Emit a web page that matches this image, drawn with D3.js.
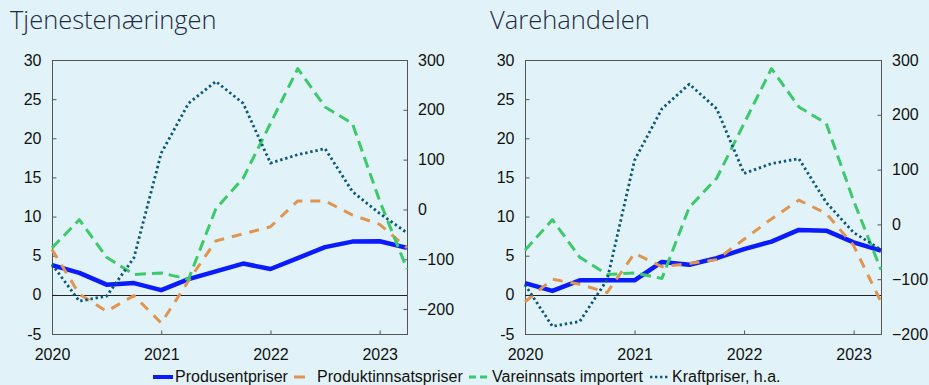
<!DOCTYPE html>
<html>
<head>
<meta charset="utf-8">
<script src="https://cdn.jsdelivr.net/npm/d3@7"></script>
<style>
  html, body { margin: 0; padding: 0; background: #e1f3f8; }
  svg { display: block; }
  .tick text { font-family: "Liberation Sans", Arial, sans-serif; font-size: 16px; fill: #111; }
</style>
</head>
<body>
<svg id="chart" width="929" height="385"></svg>
<script>
// Quarterly observations, 2020 Q1 – 2023 Q2 (decimal years)
const periods = [2020.00, 2020.25, 2020.50, 2020.75, 2021.00, 2021.25, 2021.50, 2021.75,
                 2022.00, 2022.25, 2022.50, 2022.75, 2023.00, 2023.25];

const seriesNames = ["Produsentpriser", "Produktinnsatspriser", "Vareinnsats importert", "Kraftpriser, h.a."];
const panelTitles = ["Tjenestenæringen", "Varehandelen"];

// Tjenestenæringen
const tjenesteProdusent       = [3.8, 2.8, 1.3, 1.5, 0.6, 2.0, 3.0, 4.0, 3.3, 4.7, 6.1, 6.8, 6.85, 6.0];
const tjenesteProduktinnsats  = [5.8, 0.1, -2.1, -0.1, -3.6, 1.8, 6.9, 7.8, 8.7, 12.0, 12.0, 10.2, 9.0, 6.0];
const tjenesteVareinnsats     = [6.0, 9.6, 4.8, 2.6, 2.8, 2.0, 11.0, 14.9, 21.9, 28.9, 24.0, 21.9, 12.0, 3.3];
const tjenesteKraft           = [-110, -184, -174, -97, 113, 213, 257, 213, 93, 110, 122, 36, -8, -47];

// Varehandelen
const vareProdusent           = [1.5, 0.5, 1.85, 1.85, 1.85, 4.2, 3.85, 4.7, 5.85, 6.8, 8.3, 8.2, 6.7, 5.65];
const vareProduktinnsats      = [-0.9, 2.0, 1.35, 0.3, 5.3, 3.6, 4.0, 4.5, 7.1, 9.7, 12.1, 10.4, 6.3, -0.9];
const vareVareinnsats         = [5.7, 9.6, 4.8, 2.6, 2.8, 2.1, 11.2, 14.9, 21.9, 28.9, 24.0, 21.9, 12.0, 3.2];
const vareKraft               = [-110, -186, -177, -101, 117, 211, 256, 211, 93, 111, 120, 40, -15, -46];

// Axis ticks
const yearTicks   = [2020, 2021, 2022, 2023];
const leftTicks   = [-5, 0, 5, 10, 15, 20, 25, 30];
const rightTicksA = [-200, -100, 0, 100, 200, 300];
const rightTicksB = [-200, -100, 0, 100, 200, 300];

const colors = ["#0a1cff", "#df9552", "#3cc96c", "#0d5878"];

const svg = d3.select("#chart");
svg.append("rect").attr("width", 929).attr("height", 385).attr("fill", "#e1f3f8");

const plotTop = 60, plotBottom = 334;

const panels = [
  { title: panelTitles[0], titleX: 10, x0: 52, x1: 407,
    rightDomain: [-250, 300], rightTicks: rightTicksA,
    series: [tjenesteProdusent, tjenesteProduktinnsats, tjenesteVareinnsats, tjenesteKraft] },
  { title: panelTitles[1], titleX: 490, x0: 525, x1: 881,
    rightDomain: [-200, 300], rightTicks: rightTicksB,
    series: [vareProdusent, vareProduktinnsats, vareVareinnsats, vareKraft] }
];

const styles = [
  { width: 4.5, dash: null },
  { width: 3, dash: "10,8" },
  { width: 3, dash: "11,6" },
  { width: 2.8, dash: "2.4,2.8" }
];

const minusHyphen = d => d < 0 ? "-" + Math.abs(d) : String(d);

panels.forEach(p => {
  const g = svg.append("g");
  const x = d3.scaleLinear().domain([2020, 2023.25]).range([p.x0, p.x1]);
  const yL = d3.scaleLinear().domain([-5, 30]).range([plotBottom, plotTop]);
  const yR = d3.scaleLinear().domain(p.rightDomain).range([plotBottom, plotTop]);

  // Title
  g.append("text")
    .attr("x", p.titleX).attr("y", 29)
    .attr("font-family", "'Open Sans', sans-serif")
    .attr("font-weight", 300)
    .attr("font-size", 25.5)
    .attr("fill", "#1e2b45")
    .text(p.title);

  // Left axis
  g.append("g").attr("transform", `translate(${p.x0 + 0.5},0)`)
    .call(d3.axisLeft(yL).tickValues(leftTicks).tickFormat(minusHyphen)
      .tickSizeInner(-4).tickSizeOuter(0).tickPadding(11))
    .call(a => a.select(".domain").remove())
    .call(a => a.selectAll(".tick line").attr("stroke", "#555"));

  // Right axis
  g.append("g").attr("transform", `translate(${p.x1 + 0.5},0)`)
    .call(d3.axisRight(yR).tickValues(p.rightTicks)
      .tickSizeInner(-4).tickSizeOuter(0).tickPadding(10.5))
    .call(a => a.select(".domain").remove())
    .call(a => a.selectAll(".tick line").attr("stroke", "#555"));

  // Bottom axis
  g.append("g").attr("transform", `translate(0,${plotBottom + 0.5})`)
    .call(d3.axisBottom(x).tickValues(yearTicks).tickFormat(d3.format("d"))
      .tickSizeInner(-4).tickSizeOuter(0).tickPadding(14))
    .call(a => a.select(".domain").remove())
    .call(a => a.selectAll(".tick line").attr("stroke", "#555"));

  // Frame
  g.append("rect")
    .attr("x", p.x0 + 0.5).attr("y", plotTop + 0.5)
    .attr("width", p.x1 - p.x0).attr("height", plotBottom - plotTop)
    .attr("fill", "none").attr("stroke", "#555").attr("stroke-width", 1);

  // Zero line
  g.append("line")
    .attr("x1", p.x0).attr("x2", p.x1)
    .attr("y1", Math.round(yL(0)) + 0.5).attr("y2", Math.round(yL(0)) + 0.5)
    .attr("stroke", "#222").attr("stroke-width", 1);

  // Series
  p.series.forEach((vals, i) => {
    const y = i === 3 ? yR : yL;
    const line = d3.line().x((d, j) => x(periods[j])).y(d => y(d));
    g.append("path")
      .datum(vals)
      .attr("d", line)
      .attr("fill", "none")
      .attr("stroke", colors[i])
      .attr("stroke-width", styles[i].width)
      .attr("stroke-dasharray", styles[i].dash)
      .attr("stroke-linejoin", "round");
  });
});

// Legend
const legendLayout = [
  { sx: 153, sw: 20, tx: 175, dash: null, w: 4 },
  { sx: 294, sw: 11, tx: 317, dash: null, w: 3 },
  { sx: 469, sw: 19, tx: 492, dash: "7,4", w: 3 },
  { sx: 650, sw: 18, tx: 672, dash: "2.4,2.6", w: 2.6 }
];
const legend = svg.append("g");
seriesNames.forEach((name, i) => {
  const L = legendLayout[i];
  legend.append("line")
    .attr("x1", L.sx).attr("x2", L.sx + L.sw)
    .attr("y1", 377).attr("y2", 377)
    .attr("stroke", colors[i]).attr("stroke-width", L.w)
    .attr("stroke-dasharray", L.dash);
  legend.append("text")
    .attr("x", L.tx).attr("y", 382)
    .attr("font-family", "'Liberation Sans', Arial, sans-serif")
    .attr("font-size", 16)
    .attr("fill", "#111")
    .text(name);
});
</script>
</body>
</html>
